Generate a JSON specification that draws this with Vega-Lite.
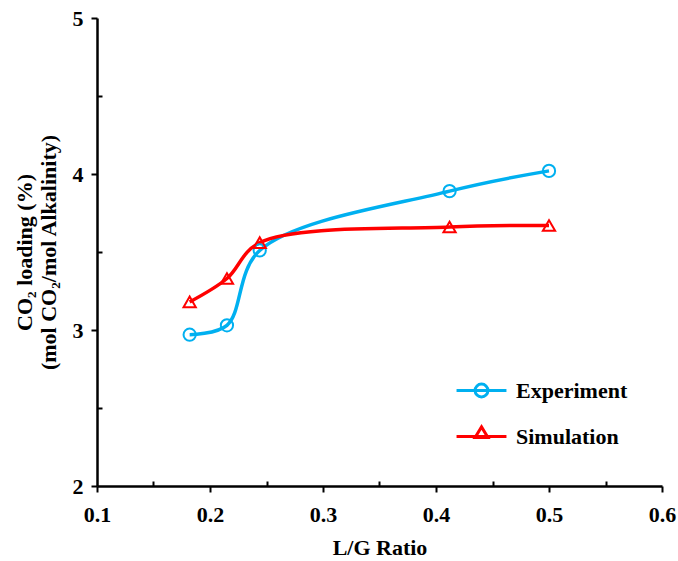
{
  "$schema": "https://vega.github.io/schema/vega-lite/v6.json",
  "width": 565,
  "height": 468,
  "autosize": {"type": "none"},
  "padding": {"left": 97, "top": 18, "right": 16, "bottom": 75},
  "background": "white",
  "config": {
    "view": {"stroke": null},
    "font": "Liberation Serif",
    "axis": {
      "grid": false,
      "labelFlush": false,
      "domainColor": "black",
      "domainWidth": 2.5,
      "tickColor": "black",
      "tickWidth": 2,
      "labelFont": "Liberation Serif",
      "labelFontWeight": "bold",
      "labelFontSize": 22,
      "labelColor": "black",
      "titleFont": "Liberation Serif",
      "titleFontWeight": "bold",
      "titleFontSize": 22,
      "titleColor": "black"
    }
  },
  "data": {
    "values": [
      {"series": "Experiment", "lg": 0.182, "loading": 2.97},
      {"series": "Experiment", "lg": 0.215, "loading": 3.03},
      {"series": "Experiment", "lg": 0.244, "loading": 3.51},
      {"series": "Experiment", "lg": 0.412, "loading": 3.89},
      {"series": "Experiment", "lg": 0.5, "loading": 4.02},
      {"series": "Simulation", "lg": 0.182, "loading": 3.18},
      {"series": "Simulation", "lg": 0.215, "loading": 3.33},
      {"series": "Simulation", "lg": 0.244, "loading": 3.56},
      {"series": "Simulation", "lg": 0.412, "loading": 3.66},
      {"series": "Simulation", "lg": 0.5, "loading": 3.67}
    ]
  },
  "encoding": {
    "x": {
      "field": "lg",
      "type": "quantitative",
      "scale": {"domain": [0.1, 0.6], "nice": false, "zero": false},
      "axis": {
        "title": "L/G Ratio",
        "values": [0.1, 0.15, 0.2, 0.25, 0.3, 0.35, 0.4, 0.45, 0.5, 0.55, 0.6],
        "labelExpr": "abs(datum.value * 10 - round(datum.value * 10)) < 0.001 ? format(datum.value, '.1f') : ''",
        "tickSize": {"condition": {"test": "abs(datum.value * 10 - round(datum.value * 10)) < 0.001", "value": 6}, "value": -5},
        "labelPadding": 12,
        "titlePadding": 12
      }
    },
    "y": {
      "field": "loading",
      "type": "quantitative",
      "scale": {"domain": [2, 5], "nice": false, "zero": false},
      "axis": {
        "title": ["CO₂ loading (%)", "(mol CO₂/mol Alkalinity)"],
        "values": [2, 2.5, 3, 3.5, 4, 4.5, 5],
        "labelExpr": "datum.value % 1 === 0 ? format(datum.value, 'd') : ''",
        "tickSize": {"condition": {"test": "datum.value % 1 === 0", "value": 6}, "value": -5},
        "labelPadding": 8,
        "titlePadding": 12
      }
    },
    "color": {
      "field": "series",
      "type": "nominal",
      "scale": {"domain": ["Experiment", "Simulation"], "range": ["#00B0F0", "#FF0000"]},
      "legend": {
        "title": null,
        "orient": "none",
        "legendX": 367,
        "legendY": 355,
        "symbolSize": 1024,
        "symbolStrokeWidth": 3,
        "labelFont": "Liberation Serif",
        "labelFontWeight": "bold",
        "labelFontSize": 22,
        "labelColor": "black",
        "labelOffset": 17,
        "rowPadding": 16,
        "encode": {
          "symbols": {
            "update": {
              "shape": {"signal": "datum.value === 'Experiment' ? 'M-1.56,0H1.56M-0.4,0A0.4,0.4 0 1,0 0.4,0A0.4,0.4 0 1,0 -0.4,0Z' : 'M-1.56,0H1.56M0,-0.6L0.4,0.06L-0.4,0.06Z'"},
              "stroke": {"signal": "datum.value === 'Experiment' ? '#00B0F0' : '#FF0000'"},
              "fill": {"value": "transparent"},
              "strokeWidth": {"value": 3}
            }
          }
        }
      }
    }
  },
  "layer": [
    {
      "mark": {"type": "line", "interpolate": "catmull-rom", "strokeWidth": 3.5}
    },
    {
      "transform": [{"filter": "datum.series === 'Experiment'"}],
      "mark": {"type": "point", "shape": "circle", "filled": false, "strokeWidth": 2, "size": 150, "opacity": 1}
    },
    {
      "transform": [{"filter": "datum.series === 'Simulation'"}],
      "mark": {"type": "point", "shape": "triangle-up", "filled": false, "strokeWidth": 2, "size": 150, "opacity": 1}
    }
  ]
}
